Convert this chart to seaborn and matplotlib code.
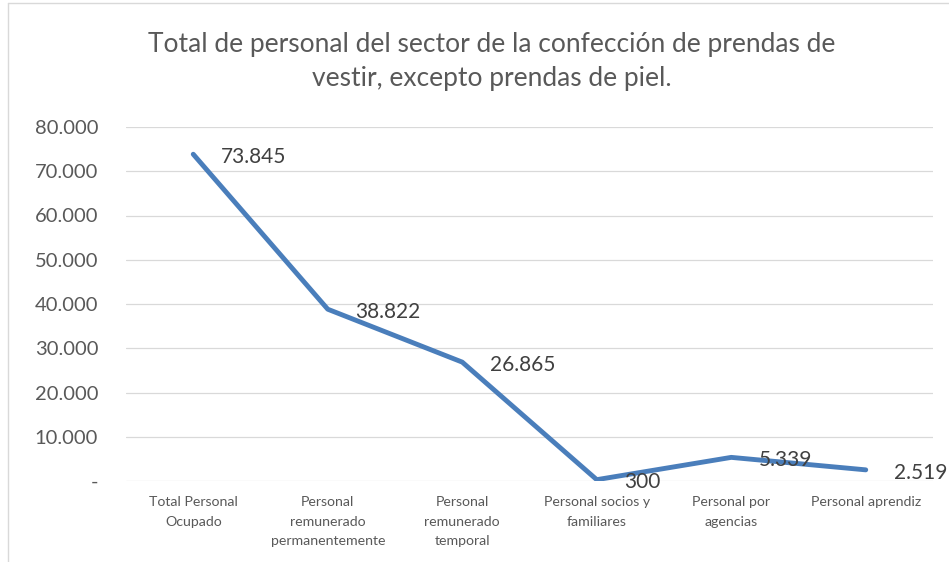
import matplotlib
matplotlib.use("Agg")
import matplotlib.pyplot as plt
from matplotlib.ticker import FuncFormatter, MultipleLocator
from matplotlib.lines import Line2D
import seaborn as sns
import pandas as pd

categories = [
    "Total Personal\nOcupado",
    "Personal\nremunerado\npermanentemente",
    "Personal\nremunerado\ntemporal",
    "Personal socios y\nfamiliares",
    "Personal por\nagencias",
    "Personal aprendiz",
]
values = [73845, 38822, 26865, 300, 5339, 2519]
title = "Total de personal del sector de la confección de prendas de\nvestir, excepto prendas de piel."

sns.set_theme(style="white")
plt.rcParams["font.family"] = ["Lato", "DejaVu Sans"]

W, H = 949, 562
fig = plt.figure(figsize=(W / 100, H / 100), dpi=100)
ax = fig.add_axes([126 / W, 1 - 481 / H, (933 - 126) / W, (481 - 127) / H])

df = pd.DataFrame({"cat": categories, "val": values})
df["pos"] = range(len(categories))
sns.lineplot(data=df, x="pos", y="val", ax=ax, sort=False, color="#4a7ebb",
             linewidth=3.5, solid_capstyle="round", solid_joinstyle="round")

ax.set_xlim(-0.5, len(categories) - 0.5)
ax.set_ylim(0, 80000)
ax.yaxis.set_major_locator(MultipleLocator(10000))
ax.yaxis.set_major_formatter(FuncFormatter(
    lambda v, p: "-" if v == 0 else f"{int(round(v)):,}".replace(",", ".")))
ax.set_xticks(range(len(categories)))
ax.set_xticklabels(categories, fontsize=10.2, color="#595959", linespacing=1.75, va="top")
ax.tick_params(axis="y", labelsize=14.5, labelcolor="#595959", length=0, pad=20)
ax.tick_params(axis="x", length=0, pad=11)
ax.set_xlabel("")
ax.set_ylabel("")
ax.grid(axis="y", color="#d9d9d9", linewidth=0.9)
ax.grid(axis="x", visible=False)
for s in ax.spines.values():
    s.set_visible(False)
ax.set_axisbelow(True)

for i, v in enumerate(values):
    lab = f"{v:,}".replace(",", ".")
    ax.annotate(lab, (i, v), xytext=(20, -2), textcoords="offset points",
                ha="left", va="center", fontsize=15, color="#404040",
                annotation_clip=False)

fig.text(492 / W, 1 - 61.5 / H, title, ha="center", va="center",
         fontsize=19, color="#595959", linespacing=1.45)

# outer chart frame
fig.add_artist(Line2D([7.5 / W, 7.5 / W], [0, 1 - 2.5 / H], transform=fig.transFigure,
                      color="#d9d9d9", linewidth=1.0))
fig.add_artist(Line2D([7.5 / W, 1], [1 - 2.5 / H, 1 - 2.5 / H], transform=fig.transFigure,
                      color="#d9d9d9", linewidth=1.0))

fig.savefig("out.png", dpi=100, facecolor="white")
